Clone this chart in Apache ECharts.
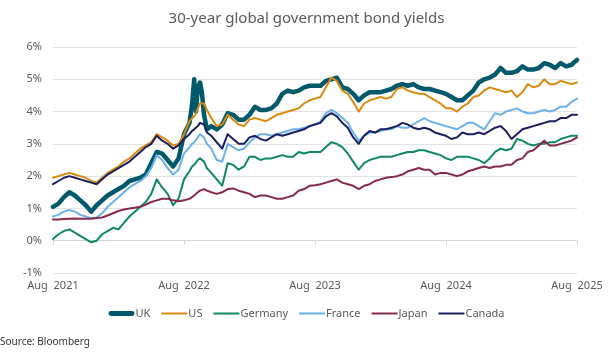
<!DOCTYPE html>
<html>
<head>
<meta charset="utf-8">
<title>30-year global government bond yields</title>
<script src="https://cdn.jsdelivr.net/npm/echarts@6/dist/echarts.min.js"></script>
<style>
  html, body { margin: 0; padding: 0; background: #fff; }
  #chart { width: 613px; height: 353px; }
</style>
</head>
<body>
<div id="chart"></div>
<script>
// observation dates (roughly twice a month, denser around the Sep 2022 gilt spike)
const dates = [
  '2021-08-01','2021-08-16','2021-09-01','2021-09-16','2021-10-01','2021-10-16','2021-11-01','2021-11-16','2021-12-01','2021-12-16',
  '2022-01-01','2022-01-16','2022-02-01','2022-02-16','2022-03-01','2022-03-16','2022-04-01','2022-04-16','2022-05-01','2022-05-16',
  '2022-06-01','2022-06-16','2022-07-01','2022-07-16','2022-08-01',
  '2022-08-16','2022-08-23','2022-08-29','2022-09-04','2022-09-09','2022-09-15','2022-09-20','2022-09-26','2022-10-04',
  '2022-10-16','2022-11-01','2022-11-16','2022-12-01','2022-12-16',
  '2023-01-01','2023-01-16','2023-02-01','2023-02-16','2023-03-01','2023-03-16','2023-04-01','2023-04-16','2023-05-01','2023-05-16',
  '2023-06-01','2023-06-16','2023-07-01','2023-07-16','2023-08-01','2023-08-16','2023-09-01','2023-09-16','2023-10-01','2023-10-16',
  '2023-11-01','2023-11-16','2023-12-01','2023-12-16',
  '2024-01-01','2024-01-16','2024-02-01','2024-02-16','2024-03-01','2024-03-16','2024-04-01','2024-04-16','2024-05-01','2024-05-16',
  '2024-06-01','2024-06-16','2024-07-01','2024-07-16','2024-08-01','2024-08-16','2024-09-01','2024-09-16','2024-10-01','2024-10-16',
  '2024-11-01','2024-11-16','2024-12-01','2024-12-16',
  '2025-01-01','2025-01-16','2025-02-01','2025-02-16','2025-03-01','2025-03-16','2025-04-01','2025-04-16','2025-05-01','2025-05-16',
  '2025-06-01','2025-06-16','2025-07-01','2025-07-16','2025-08-01'
]

const uk = [
  1.05, 1.15, 1.35, 1.5, 1.4, 1.25, 1.1, 0.9, 1.1, 1.25, 1.4, 1.5, 1.6, 1.7, 1.85, 1.9, 1.95, 2.05, 2.4, 2.75, 2.7, 2.5, 2.3, 2.55, 3.3,
  3.65, 4.2, 5.0, 4.0, 4.75, 4.9, 4.6, 3.9, 3.45,
  3.55, 3.45, 3.6, 3.95, 3.9, 3.75, 3.75, 3.9, 4.15, 4.05, 4.05, 4.1, 4.25, 4.55, 4.65, 4.6, 4.65, 4.75, 4.8, 4.8,
  4.8, 4.95, 5.0, 5.05, 4.75, 4.7, 4.55, 4.35, 4.5, 4.6, 4.6, 4.6, 4.65, 4.7, 4.8, 4.85, 4.8, 4.85, 4.75, 4.7, 4.7, 4.65, 4.6, 4.55,
  4.45, 4.35, 4.35, 4.5, 4.65, 4.9, 5.0, 5.05, 5.15, 5.35, 5.2, 5.2, 5.25, 5.4, 5.3, 5.3, 5.35, 5.5, 5.45, 5.35, 5.5, 5.4, 5.45, 5.6
]
const us = [
  1.95, 2.0, 2.05, 2.1, 2.05, 2.0, 1.95, 1.85, 1.8, 1.95, 2.1, 2.2, 2.3, 2.45, 2.55, 2.7, 2.85, 2.95, 3.05, 3.3, 3.2, 3.1, 2.95, 3.0, 3.3,
  3.7, 3.8, 3.85, 3.95, 4.1, 4.25, 4.3, 4.25, 4.05,
  3.8, 3.55, 3.6, 3.9, 3.75, 3.6, 3.55, 3.75, 3.8, 3.75, 3.7, 3.8, 3.9, 3.95, 4.0, 4.05, 4.1, 4.25, 4.35, 4.4,
  4.45, 4.75, 5.05, 4.95, 4.65, 4.55, 4.3, 4.0, 4.25, 4.35, 4.4, 4.45, 4.4, 4.45, 4.7, 4.75, 4.65, 4.6, 4.55, 4.55, 4.45, 4.35, 4.25, 4.1,
  4.1, 4.0, 4.15, 4.25, 4.45, 4.5, 4.65, 4.75, 4.7, 4.65, 4.6, 4.65, 4.45, 4.6, 4.85, 4.75, 4.8, 5.0, 4.85, 4.85, 4.95, 4.9, 4.85, 4.9
]
const germany = [
  0.05, 0.2, 0.3, 0.35, 0.25, 0.15, 0.05, -0.05, 0.0, 0.2, 0.3, 0.4, 0.35, 0.55, 0.75, 0.9, 1.05, 1.2, 1.45, 1.9, 1.65, 1.45, 1.1, 1.3, 1.9,
  2.15, 2.3, 2.35, 2.4, 2.5, 2.55, 2.55, 2.45, 2.25,
  2.1, 1.9, 1.7, 2.4, 2.35, 2.2, 2.3, 2.6, 2.6, 2.5, 2.55, 2.55, 2.6, 2.65, 2.6, 2.6, 2.75, 2.7, 2.75, 2.75,
  2.75, 2.9, 3.05, 3.0, 2.9, 2.7, 2.45, 2.2, 2.4, 2.5, 2.55, 2.6, 2.6, 2.6, 2.65, 2.7, 2.75, 2.75, 2.8, 2.8, 2.75, 2.7, 2.65, 2.55,
  2.5, 2.6, 2.6, 2.6, 2.55, 2.5, 2.4, 2.55, 2.75, 2.85, 2.8, 2.85, 3.15, 3.1, 3.0, 2.95, 3.0, 3.0, 3.05, 3.05, 3.15, 3.2, 3.25, 3.25
]
const france = [
  0.75, 0.8, 0.9, 0.95, 0.9, 0.8, 0.75, 0.7, 0.72, 0.85, 1.05, 1.2, 1.35, 1.5, 1.65, 1.75, 1.85, 2.0, 2.25, 2.65, 2.5, 2.25, 2.05, 2.2, 2.7,
  2.9, 3.0, 3.05, 3.1, 3.2, 3.3, 3.3, 3.2, 3.0,
  2.85, 2.5, 2.45, 3.0, 2.9, 2.8, 2.85, 3.05, 3.2, 3.3, 3.3, 3.25, 3.3, 3.35, 3.4, 3.45, 3.45, 3.5, 3.55, 3.6,
  3.7, 3.95, 4.05, 3.95, 3.8, 3.65, 3.35, 3.1, 3.25, 3.35, 3.35, 3.4, 3.45, 3.45, 3.55, 3.5, 3.5, 3.6, 3.7, 3.8, 3.7, 3.65, 3.6, 3.55,
  3.5, 3.45, 3.55, 3.65, 3.65, 3.55, 3.45, 3.7, 3.95, 3.9, 4.0, 4.05, 4.1, 4.0, 3.95, 3.95, 4.0, 4.05, 4.0, 4.05, 4.15, 4.15, 4.3, 4.4
]
const japan = [
  0.66, 0.66, 0.67, 0.68, 0.69, 0.68, 0.68, 0.68, 0.7, 0.72, 0.78, 0.85, 0.92, 0.97, 1.0, 1.02, 1.05, 1.12, 1.2, 1.25, 1.3, 1.3, 1.25, 1.22, 1.25,
  1.3, 1.35, 1.4, 1.45, 1.5, 1.55, 1.6, 1.6, 1.55,
  1.5, 1.45, 1.5, 1.6, 1.62, 1.55, 1.5, 1.45, 1.35, 1.4, 1.4, 1.35, 1.3, 1.3, 1.35, 1.4, 1.55, 1.6, 1.7, 1.72,
  1.75, 1.8, 1.85, 1.9, 1.8, 1.75, 1.7, 1.6, 1.7, 1.75, 1.85, 1.9, 1.95, 1.97, 2.0, 2.05, 2.15, 2.2, 2.25, 2.2, 2.2, 2.05, 2.1, 2.1,
  2.05, 2.0, 2.05, 2.15, 2.2, 2.25, 2.3, 2.25, 2.3, 2.3, 2.35, 2.35, 2.5, 2.55, 2.75, 2.8, 2.95, 3.1, 2.95, 2.95, 3.0, 3.05, 3.1, 3.2
]
const canada = [
  1.75, 1.85, 1.95, 2.0, 1.95, 1.9, 1.85, 1.8, 1.75, 1.9, 2.05, 2.15, 2.25, 2.35, 2.45, 2.6, 2.75, 2.9, 3.0, 3.25, 3.1, 3.0, 2.85, 2.95, 3.15,
  3.3, 3.4, 3.45, 3.4, 3.55, 3.65, 3.7, 3.6, 3.35,
  3.25, 3.05, 2.85, 3.3, 3.15, 3.0, 3.0, 3.2, 3.25, 3.15, 3.1, 3.2, 3.3, 3.25, 3.3, 3.35, 3.4, 3.45, 3.55, 3.6,
  3.65, 3.85, 3.95, 3.85, 3.65, 3.5, 3.2, 3.0, 3.25, 3.4, 3.35, 3.45, 3.45, 3.5, 3.55, 3.65, 3.6, 3.5, 3.45, 3.5, 3.45, 3.35, 3.3, 3.25,
  3.15, 3.2, 3.35, 3.3, 3.3, 3.35, 3.3, 3.4, 3.5, 3.55, 3.4, 3.15, 3.3, 3.45, 3.5, 3.55, 3.6, 3.65, 3.7, 3.7, 3.8, 3.8, 3.9, 3.9
]

const xTickLabels = ['Aug  2021', 'Aug  2022', 'Aug  2023', 'Aug  2024', 'Aug  2025']

// months elapsed since 1 Aug 2021, used as the x value
function monthsSince(d) {
  const [y, m, day] = d.split('-').map(Number)
  return (y - 2021) * 12 + (m - 8) + (day - 1) / 30
}
const xs = dates.map(monthsSince)
const pairs = vals => vals.map((v, i) => [xs[i], v])

const textColor = '#595959'
const gridColor = '#e3e3e3'

const seriesDefs = [
  { name: 'UK', data: uk, color: '#00586b', width: 4.5 },
  { name: 'US', data: us, color: '#d98a0f', width: 2 },
  { name: 'Germany', data: germany, color: '#0e8a5c', width: 2 },
  { name: 'France', data: france, color: '#6eb0ea', width: 2 },
  { name: 'Japan', data: japan, color: '#86294a', width: 2 },
  { name: 'Canada', data: canada, color: '#1b1f5e', width: 2 }
]

// flat bar icons for the legend, thicker for UK
const thickIcon = 'path://M2,0H24A2.5,2.5 0 0 1 24,5H2A2.5,2.5 0 0 1 2,0Z'
const thinIcon = 'path://M0,0H26V2H0Z'

const chart = echarts.init(document.getElementById('chart'))
chart.setOption({
  animation: false,
  textStyle: { fontFamily: 'Noto Sans' },
  title: {
    text: '30-year global government bond yields',
    left: 'center',
    top: 6,
    textStyle: { fontSize: 15, fontWeight: 'normal', color: textColor }
  },
  legend: {
    top: 303,
    left: 'center',
    itemWidth: 26,
    itemHeight: 5,
    itemGap: 11,
    textStyle: { fontSize: 11, color: textColor, padding: [0, 0, 0, -4] },
    data: seriesDefs.map(s => ({
      name: s.name,
      icon: s.width > 3 ? thickIcon : thinIcon,
      itemStyle: { color: s.color }
    }))
  },
  graphic: [{
    type: 'text',
    left: 0,
    top: 337,
    style: { text: 'Source: Bloomberg', fontSize: 10, fill: '#333', fontFamily: 'Noto Sans' }
  }],
  grid: { left: 53, right: 36, top: 47, bottom: 80 },
  xAxis: [
    {
      // axis line sitting on 0%, with small ticks
      type: 'value',
      min: 0,
      max: 48,
      interval: 12,
      axisLine: { onZero: true, lineStyle: { color: '#d4d4d4' } },
      axisTick: { show: true, length: 4, inside: false, lineStyle: { color: '#d4d4d4' } },
      axisLabel: { show: false },
      splitLine: { show: false }
    },
    {
      // labels along the bottom
      type: 'value',
      position: 'bottom',
      min: 0,
      max: 48,
      interval: 12,
      axisLine: { onZero: false, show: false },
      axisTick: { show: false },
      axisLabel: {
        color: textColor,
        fontSize: 11,
        margin: 7,
        formatter: v => xTickLabels[Math.round(v / 12)]
      },
      splitLine: { show: false }
    }
  ],
  yAxis: {
    type: 'value',
    min: -1,
    max: 6,
    interval: 1,
    axisLine: { show: false },
    axisTick: { show: false },
    axisLabel: { color: textColor, fontSize: 11, margin: 11, formatter: '{value}%' },
    splitLine: { lineStyle: { color: gridColor, width: 1 } }
  },
  series: seriesDefs.map(s => ({
    name: s.name,
    type: 'line',
    xAxisIndex: 0,
    data: pairs(s.data),
    symbol: 'none',
    color: s.color,
    lineStyle: { width: s.width, color: s.color, cap: 'round', join: 'round' }
  }))
})
</script>
</body>
</html>
